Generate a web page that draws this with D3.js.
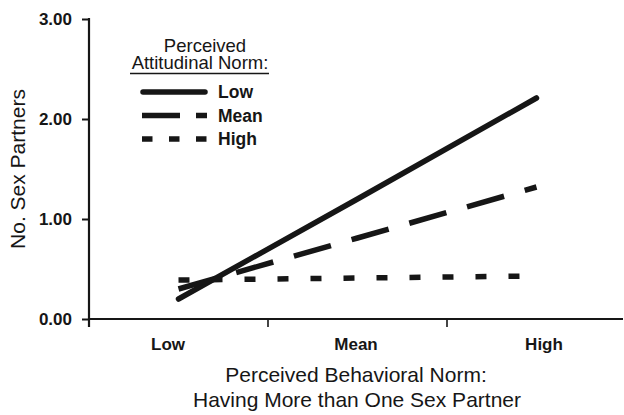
<!DOCTYPE html>
<html>
<head>
<meta charset="utf-8">
<script src="https://cdn.jsdelivr.net/npm/d3@7"></script>
<style>
  html, body { margin: 0; padding: 0; background: #fff; }
  svg { display: block; font-family: "Liberation Sans", Arial, sans-serif; }
</style>
</head>
<body>
<svg id="chart" width="624" height="415"></svg>
<script>
// ---- data ----
const categories = ["Low", "Mean", "High"];           // perceived behavioral norm
const yTicks = [0, 1, 2, 3];
const seriesNames = ["Low", "Mean", "High"];           // perceived attitudinal norm
const lowValues  = [0.20, 1.20, 2.21];
const meanValues = [0.30, 0.81, 1.32];
const highValues = [0.39, 0.41, 0.43];

const series = [
  { name: seriesNames[0], values: lowValues,  dash: null,        cap: "round", legendDash: null },
  { name: seriesNames[1], values: meanValues, dash: "38.5,21.5", cap: "butt",  legendDash: "38,16" },
  { name: seriesNames[2], values: highValues, dash: "11,22",     cap: "butt",  legendDash: "10.5,16.5" }
];

const ink = "#161616";
const svg = d3.select("#chart");

const x = d3.scaleBand().domain(categories).range([89, 626]).padding(0);
const xLabel = d3.scalePoint().domain(categories).range([168, 544]);
const y = d3.scaleLinear().domain([0, 3]).range([319, 19]);

// ---- y axis ----
const yAxis = svg.append("g").attr("transform", "translate(89,0)")
  .call(d3.axisLeft(y).tickValues(yTicks).tickFormat(d3.format(".2f")).tickSize(7).tickPadding(10));
yAxis.select(".domain").remove();
yAxis.selectAll(".tick line").attr("stroke", ink).attr("stroke-width", 2);
yAxis.selectAll(".tick text").attr("fill", ink).style("font-size", "17px").style("font-weight", "bold")
  .style("font-family", "'Liberation Sans', Arial, sans-serif");
svg.append("line").attr("x1", 89).attr("x2", 89).attr("y1", y(3) - 1).attr("y2", 327)
  .attr("stroke", ink).attr("stroke-width", 2.2);

// ---- x axis ----
svg.append("line").attr("x1", 88).attr("x2", 623).attr("y1", y(0)).attr("y2", y(0))
  .attr("stroke", ink).attr("stroke-width", 2.2);
const xTickPos = categories.slice(1).map(c => x(c));
svg.selectAll(".xtick").data(xTickPos).enter().append("line")
  .attr("x1", d => d).attr("x2", d => d).attr("y1", y(0)).attr("y2", y(0) + 8)
  .attr("stroke", ink).attr("stroke-width", 1.6);
svg.selectAll(".xlab").data(categories).enter().append("text")
  .attr("x", d => xLabel(d)).attr("y", 350).attr("text-anchor", "middle")
  .attr("fill", ink).style("font-size", "17px").style("font-weight", "bold").text(d => d);

// axis titles
svg.append("text").attr("transform", "translate(25,169) rotate(-90)").attr("text-anchor", "middle")
  .attr("fill", ink).style("font-size", "21px").text("No. Sex Partners");
svg.append("text").attr("x", 356).attr("y", 382).attr("text-anchor", "middle")
  .attr("fill", ink).style("font-size", "21px").text("Perceived Behavioral Norm:");
svg.append("text").attr("x", 357).attr("y", 407).attr("text-anchor", "middle")
  .attr("fill", ink).style("font-size", "21px").text("Having More than One Sex Partner");

// ---- lines ----
const line = d3.line().x((d, i) => x(categories[i]) + x.bandwidth() / 2).y(d => y(d));
svg.selectAll(".series").data(series).enter().append("path")
  .attr("d", d => line(d.values))
  .attr("fill", "none").attr("stroke", ink).attr("stroke-width", 5.5)
  .attr("stroke-linecap", d => d.cap)
  .attr("stroke-dasharray", d => d.dash);

// ---- legend ----
svg.append("text").attr("x", 205).attr("y", 52).attr("text-anchor", "middle")
  .attr("fill", ink).style("font-size", "18.5px").text("Perceived");
const lt = svg.append("text").attr("x", 200).attr("y", 69).attr("text-anchor", "middle")
  .attr("fill", ink).style("font-size", "18.5px").text("Attitudinal Norm:");
svg.append("line").attr("x1", 130).attr("x2", 269).attr("y1", 73.5).attr("y2", 73.5)
  .attr("stroke", ink).attr("stroke-width", 1.5);

const legendY = d3.scalePoint().domain(seriesNames).range([92, 139]);
const lg = svg.selectAll(".leg").data(series).enter().append("g");
lg.append("line")
  .attr("x1", d => d.cap === "round" ? 143 : 142).attr("x2", d => d.cap === "round" ? 205 : 207)
  .attr("y1", d => legendY(d.name)).attr("y2", d => legendY(d.name))
  .attr("stroke", ink).attr("stroke-width", 5.5)
  .attr("stroke-linecap", d => d.cap).attr("stroke-dasharray", d => d.legendDash);
lg.append("text").attr("x", 218).attr("y", d => legendY(d.name) + 6)
  .attr("fill", ink).style("font-size", "17.5px").style("font-weight", "bold").text(d => d.name);
</script>
</body>
</html>
